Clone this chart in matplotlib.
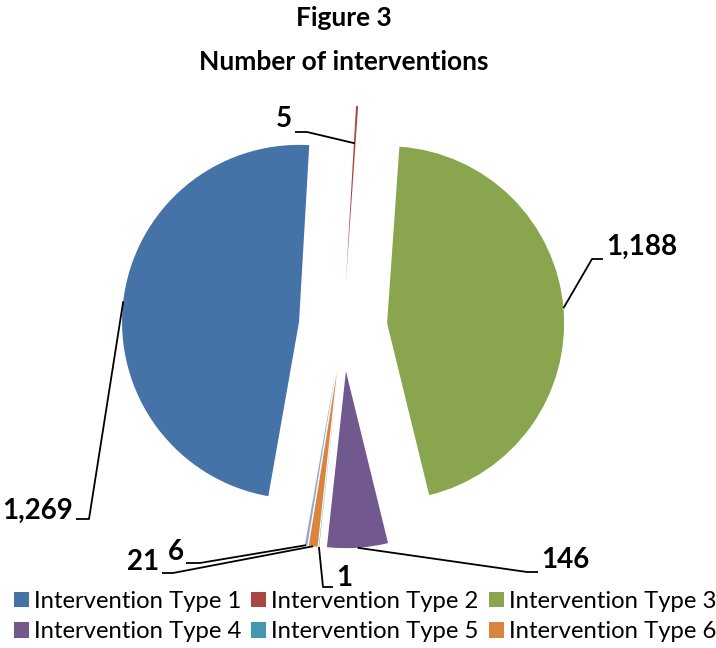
import matplotlib
matplotlib.use("Agg")
import matplotlib.pyplot as plt
from matplotlib.patches import Patch
import numpy as np

categories = ["Intervention Type 1", "Intervention Type 2", "Intervention Type 3",
              "Intervention Type 4", "Intervention Type 5", "Intervention Type 6",
              "Other"]
values = [1269, 5, 1188, 146, 1, 21, 6]
value_labels = ["1,269", "5", "1,188", "146", "1", "21", "6"]
colors = ["#4572A7", "#AA4643", "#89A54E", "#71588F", "#4198AF", "#DB843D", "#93A9CF"]
legend_count = 6

FONT = "Lato"
W, H = 716, 648

fig = plt.figure(figsize=(W / 100, H / 100), dpi=100)
ax = fig.add_axes([0, 0, 1, 1])

radius = 177
center = (343, H - 327)
# explode offsets are absolute distances in data units
wedges, _ = ax.pie(values, colors=colors, startangle=-100, counterclock=False,
                   explode=[0.25 * radius] * len(values), radius=radius, center=center,
                   wedgeprops=dict(linewidth=0))
ax.set_xlim(0, W)
ax.set_ylim(0, H)
ax.set_aspect("equal")
ax.axis("off")

# label layout: (radius fraction of anchor, elbow, line end, text pos, ha)
layout = [
    (1.00, (89, 519), (76, 519), (73, 511), "right"),
    (0.79, (307, 132), (295, 132), (292, 119), "right"),
    (1.00, (592, 259), (603, 259), (606, 247), "left"),
    (1.00, (527, 572), (538, 572), (541, 560), "left"),
    (1.00, (323, 587), (333, 587), (336, 578), "left"),
    (1.00, (173, 573), (162, 573), (159, 562), "right"),
    (1.00, (200, 563), (186, 563), (184, 552), "right"),
]

for w, lab, (rf, elbow, end, tpos, ha) in zip(wedges, value_labels, layout):
    mid = np.deg2rad((w.theta1 + w.theta2) / 2)
    cx, cy = w.center
    ax_pt = (cx + rf * w.r * np.cos(mid), cy + rf * w.r * np.sin(mid))
    xs = [ax_pt[0], elbow[0], end[0]]
    ys = [ax_pt[1], H - elbow[1], H - end[1]]
    ax.plot(xs, ys, color="black", lw=1.3, solid_capstyle="butt")
    ax.text(tpos[0], H - tpos[1], lab, ha=ha, va="center", fontsize=20,
            fontweight="bold", family=FONT, color="black")

fig.text(344 / W, 1 - 18 / H, "Figure 3", ha="center", va="center",
         fontsize=19, fontweight="bold", family=FONT)
fig.text(344 / W, 1 - 62 / H, "Number of interventions", ha="center", va="center",
         fontsize=19, fontweight="bold", family=FONT)

handles = [Patch(facecolor=c, edgecolor="none") for c in colors[:legend_count]]
order = [0, 3, 1, 4, 2, 5]
leg = ax.legend([handles[i] for i in order], [categories[i] for i in order],
                ncol=3, loc="lower left", bbox_to_anchor=(9 / W, 1 / H),
                frameon=False, prop=dict(family=FONT, size=17.2),
                handlelength=0.62, handleheight=0.62, handletextpad=0.22,
                columnspacing=0.42, labelspacing=0.4, borderpad=0.2,
                borderaxespad=0)

fig.savefig("out.png", dpi=100)
